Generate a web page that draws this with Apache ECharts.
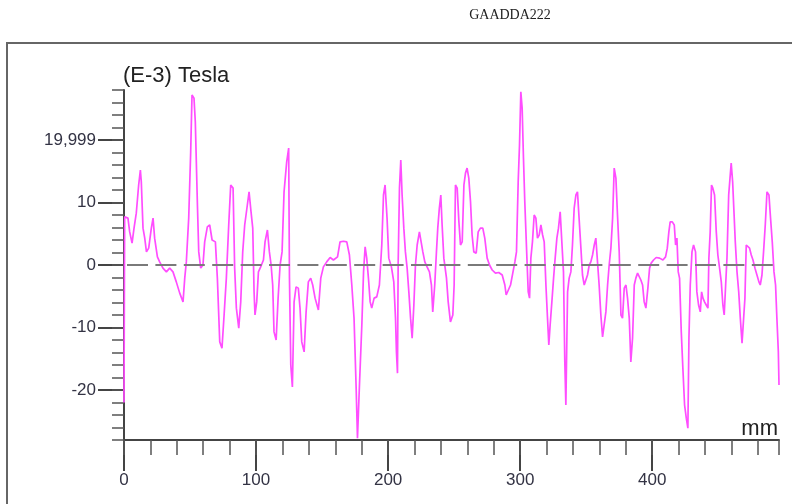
<!DOCTYPE html>
<html>
<head>
<meta charset="utf-8">
<script src="https://cdn.jsdelivr.net/npm/echarts@6/dist/echarts.min.js"></script>
<style>
  html, body { margin: 0; padding: 0; background: #ffffff; }
  #chart { width: 792px; height: 504px; }
</style>
</head>
<body>
<div id="chart"></div>
<script>
// Scan position along the sample (mm)
const positionMm = [
  0, 0.5, 1.8, 3.0, 4.3, 6.1, 7.6, 9.3, 11.1, 12.4, 13.1, 14.4, 15.7, 17.0, 18.7, 20.7, 22.0, 23.2, 25.3, 27.0,
  29.5, 32.1, 34.6, 37.1, 39.6, 42.2, 44.7, 46.0, 47.2, 49.0, 50.5, 51.5, 53.0, 54.0, 55.6, 56.6, 58.1, 59.8, 61.1, 63.1,
  64.9, 66.7, 69.2, 70.7, 72.5, 74.2, 75.8, 77.5, 79.3, 80.8, 82.6, 83.8, 85.1, 86.9, 88.4, 89.9, 91.4, 93.4, 94.7, 96.2,
  97.5, 98.5, 99.2, 100.5, 101.8, 103.5, 105.6, 106.8, 108.6, 110.1, 111.4, 112.6, 113.6, 115.2, 116.7, 118.2, 119.7, 121.2, 123.2, 124.7,
  125.3, 126.3, 127.5, 128.8, 130.3, 132.0, 133.3, 134.6, 136.4, 137.9, 139.6, 141.4, 142.9, 144.7, 147.2, 149.0, 151.0, 153.5, 156.1, 158.6,
  161.7, 163.6, 166.2, 168.7, 170.7, 172.5, 174.2, 175.8, 176.8, 178.3, 180.1, 181.4, 182.6, 183.8, 185.1, 186.4, 187.6, 189.4, 191.4, 193.4,
  195.2, 196.5, 197.7, 198.5, 199.2, 200.5, 202.5, 204.3, 205.6, 206.3, 207.1, 207.6, 208.6, 209.6, 210.6, 211.9, 213.1, 214.4, 215.7, 217.0,
  218.2, 219.5, 220.7, 222.0, 223.7, 225.2, 226.3, 227.8, 229.5, 231.3, 232.8, 233.8, 235.3, 236.6, 237.6, 238.8, 239.9, 240.9, 242.2, 244.2,
  245.5, 247.2, 249.0, 250.0, 251.0, 252.3, 253.6, 254.8, 256.1, 257.4, 258.6, 259.8, 261.1, 262.4, 263.6, 264.9, 266.7, 268.2, 269.9, 271.7,
  273.2, 275.0, 276.8, 278.8, 281.3, 283.8, 286.4, 288.4, 289.4, 290.9, 292.7, 294.4, 296.0, 297.2, 298.5, 299.5, 300.5, 301.5, 302.5, 303.5,
  305.1, 306.1, 307.1, 308.1, 309.3, 310.6, 311.9, 313.1, 314.4, 315.7, 317.0, 318.2, 319.5, 320.7, 321.7, 322.7, 324.0, 325.3, 326.5, 327.8,
  329.0, 330.3, 331.6, 332.8, 333.8, 334.6, 335.9, 337.1, 338.4, 339.6, 340.9, 342.2, 343.4, 344.7, 346.0, 347.2, 348.5, 349.7, 351.0, 352.3,
  353.5, 354.8, 356.1, 357.3, 358.6, 359.8, 361.1, 362.4, 363.6, 364.9, 366.2, 367.4, 368.7, 370.0, 371.2, 372.5, 373.7, 375.0, 376.3, 377.5,
  378.8, 380.1, 381.3, 382.6, 383.8, 385.1, 386.4, 387.6, 388.9, 390.2, 391.4, 392.7, 393.9, 395.2, 396.7, 398.0, 399.2, 401.0, 403.0, 405.6,
  408.1, 410.1, 411.4, 412.6, 413.6, 415.2, 416.7, 417.7, 418.7, 419.7, 420.7, 422.0, 423.2, 424.5, 425.8, 427.0, 427.8, 428.8, 430.1, 431.3,
  432.8, 433.8, 435.1, 436.4, 437.4, 438.4, 439.6, 440.9, 442.2, 442.9, 443.9, 444.9, 445.9, 447.2, 448.5, 449.7, 451.0, 452.3, 453.5, 454.5,
  455.6, 456.6, 457.9, 458.9, 459.8, 460.9, 461.9, 462.9, 464.2, 465.5, 466.7, 468.0, 469.2, 470.2, 471.2, 472.5, 473.7, 475.0, 476.3, 477.8,
  479.3, 480.8, 481.8, 483.1, 484.3, 485.6, 486.9, 488.4, 489.6, 490.9, 492.2, 493.4, 494.4, 495.5, 496.0
];

// Measured field, in units of 1e-3 Tesla
const fieldE3T = [
  -22, 7.7, 7.5, 7.5, 5.3, 3.5, 5.9, 8.3, 12.8, 15.2, 13.3, 5.9, 4.3, 2.1, 2.7, 5.9, 7.5, 4.3, 1.3, 0.5,
  -0.5, -1.1, -0.5, -1.1, -2.7, -4.5, -5.9, -2.1, 0.5, 7.5, 18.1, 27.2, 26.7, 22.9, 9.6, 2.1, -0.5, 0, 3.7, 6.1,
  6.4, 4.0, 3.7, -2.1, -12.3, -13.3, -8, -2.1, 6.4, 12.8, 12.3, -0.5, -6.9, -10.1, -5.9, 2.1, 6.4, 9.6, 11.7, 8.5,
  5.9, -4.3, -8, -5.9, -1.1, -0.3, 0.8, 3.7, 5.6, 2.1, 0, -3.2, -10.7, -12, -5.3, 0, 2.1, 11.7, 16.5, 18.7,
  -2.1, -16, -19.5, -5.9, -3.5, -3.7, -6.9, -12.3, -13.9, -7.5, -2.7, -2.1, -3.2, -5.3, -7.2, -2.1, -0.3, 0.5, 1.2, 0.8,
  1.3, 3.7, 3.8, 3.7, 1.6, -3.2, -8.5, -19.7, -27.7, -19.2, -9.6, -1.1, 2.9, 1.1, -2.1, -5.9, -6.9, -5.3, -5.1, -3.2,
  3.2, 11.2, 12.8, 13.1, 7.5, 1.1, -0.3, -2.7, -8.5, -13.9, -17.3, 0, 12.3, 16.8, 11.2, 5.9, 2.1, -0.5, -4.3, -8.5,
  -11.7, -6.4, 0, 3.2, 5.3, 5.6, 2.1, 0.5, -0.3, -1.1, -3.2, -7.5, -3.2, 2.1, 5.9, 9.1, 11.2, 6.4, 1.1, -2.1,
  -5.9, -9.1, -8, -3.2, 12.8, 12.3, 6.9, 3.2, 3.7, 12.8, 14.7, 15.5, 13.9, 10.1, 4.8, 2.1, 1.9, 5.3, 5.9, 5.9,
  4.3, 1.1, 0, -0.8, -1.3, -1.2, -1.6, -3.2, -4.8, -4.5, -3.2, -1.3, 0.5, 2.1, 13.3, 19.2, 27.7, 25.1, 17.1, 10.1,
  1.1, -4.3, -5.3, 1.1, 3.7, 8, 7.5, 4.3, 4.8, 6.4, 4.8, 3.7, -3.2, -8.5, -12.8, -9.6, -5.9, -2.1, 1.1, 4.3,
  5.9, 8.5, 8.8, -1.1, -15.5, -22.4, -4.3, -2.1, -1.1, 3.2, 9.1, 11.2, 11.7, 12, 2.7, -1.6, -3.2, -3.5, -1.6, 0,
  0.5, 1.6, 3.2, 4.3, 4.5, -3.2, -8, -11.5, -11.2, -7.5, -3.2, 0, 2.7, 7.5, 15.5, 13.9, 8, 2.1, -8, -8.5,
  -3.7, -3.2, -5.3, -8.5, -15.5, -11.7, -3.2, -2.1, -1.3, -1.6, -2.4, -3.2, -5.9, -6.9, -3.7, -0.5, 0.3, 0.8, 1.2, 1.1,
  0.8, 1.3, 2.7, 5.3, 6.9, 6.9, 6.4, 3.2, 4.3, -1.1, -2.1, -10.7, -16.5, -22.4, -24.5, -26.1, -11.7, -3.2, 2.1, 3.2,
  2.1, -4.3, -6.4, -7.5, -4.3, -5.3, -5.9, -6.4, -6.9, 1.1, 5.3, 12.8, 12.3, 11.2, 5.3, 1.6, -0.5, -2.7, -6.4, -8,
  -3.2, 1.1, 11.2, 13.9, 16.3, 13.3, 8.5, 3.7, -1.1, -4.3, -8.5, -12.5, -12.3, -5.3, 3.2, 3.2, 2.7, 1.6, 0.8, -0.5,
  -1.6, -2.7, -3.2, -1.6, 2.1, 6.4, 11.7, 11.2, 7.5, 3.7, -1.1, -3.2, -8.5, -13.9, -19.2
];

// Tick positions and their printed labels
const yMajorTicks = [-20, -10, 0, 10, 20];
const yMajorLabels = ['-20', '-10', '0', '10', '19,999'];
const xMajorTicks = [0, 100, 200, 300, 400];
const xMajorLabels = ['0', '100', '200', '300', '400'];

const chartTitle = 'GAADDA222';
const yUnitText = '(E-3) Tesla';
const xUnitText = 'mm';

const points = positionMm.map((x, i) => [x, fieldE3T[i]]);

const chart = echarts.init(document.getElementById('chart'), null, { renderer: 'canvas' });

const labelFont = { fontFamily: 'Liberation Sans, Arial, sans-serif', fontSize: 17, color: '#333344' };
const axisColor = '#444444';

const option = {
  animation: false,
  backgroundColor: '#ffffff',
  grid: { left: 124, top: 90, right: 13, bottom: 64, containLabel: false },
  xAxis: [
    {
      type: 'value', min: 0, max: 496, position: 'bottom',
      axisLine: { show: true, onZero: false, lineStyle: { color: axisColor, width: 2 } },
      axisTick: { show: true, inside: false, length: 31, customValues: xMajorTicks, lineStyle: { color: axisColor, width: 2 } },
      axisLabel: Object.assign({ margin: 32, customValues: xMajorTicks,
        formatter: v => xMajorLabels[xMajorTicks.indexOf(v)] || '' }, labelFont),
      splitLine: { show: false }
    },
    {
      type: 'value', min: 0, max: 496, interval: 20, position: 'bottom', offset: 0,
      axisLine: { show: false, onZero: false },
      axisTick: { show: true, inside: false, length: 15, lineStyle: { color: '#555555', width: 1.5 } },
      axisLabel: { show: false },
      splitLine: { show: false }
    }
  ],
  yAxis: [
    {
      type: 'value', min: -28, max: 28, position: 'left',
      axisLine: { show: true, onZero: false, lineStyle: { color: axisColor, width: 2 } },
      axisTick: { show: true, inside: false, length: 26, customValues: yMajorTicks, lineStyle: { color: axisColor, width: 2 } },
      axisLabel: Object.assign({ margin: 28, customValues: yMajorTicks,
        formatter: v => yMajorLabels[yMajorTicks.indexOf(v)] || '' }, labelFont),
      splitLine: { show: false }
    },
    {
      type: 'value', min: -28, max: 28, interval: 2, position: 'left', offset: 0,
      axisLine: { show: false, onZero: false },
      axisTick: { show: true, inside: false, length: 12, lineStyle: { color: '#555555', width: 1.5 } },
      axisLabel: { show: false },
      splitLine: { show: false }
    }
  ],
  series: [
    {
      type: 'line',
      xAxisIndex: 0,
      yAxisIndex: 0,
      data: points,
      showSymbol: false,
      symbol: 'none',
      lineStyle: { color: '#ff4dff', width: 1.7 },
      z: 2,
      markLine: {
        silent: true,
        symbol: ['none', 'none'],
        label: { show: false },
        lineStyle: { color: '#7a7a7a', width: 2, type: [21, 7.4], dashOffset: 25.4 },
        data: [{ yAxis: 0 }],
        z: 5
      }
    }
  ],
  graphic: [
    {
      type: 'rect', silent: true,
      shape: { x: 7, y: 43, width: 820, height: 500 },
      style: { fill: 'none', stroke: '#666666', lineWidth: 2 }
    },
    {
      type: 'text', silent: true, x: 510, y: 15,
      style: { text: chartTitle, fill: '#222222', font: '14px "Liberation Serif", "Times New Roman", serif',
        align: 'center', verticalAlign: 'middle' }
    },
    {
      type: 'text', silent: true, x: 123, y: 76,
      style: { text: yUnitText, fill: '#222222', font: '22px "Liberation Sans", Arial, sans-serif',
        align: 'left', verticalAlign: 'middle' }
    },
    {
      type: 'text', silent: true, x: 778, y: 440,
      style: { text: xUnitText, fill: '#222222', font: '22px "Liberation Sans", Arial, sans-serif',
        align: 'right', verticalAlign: 'bottom' }
    }
  ]
};

chart.setOption(option);
</script>
</body>
</html>
